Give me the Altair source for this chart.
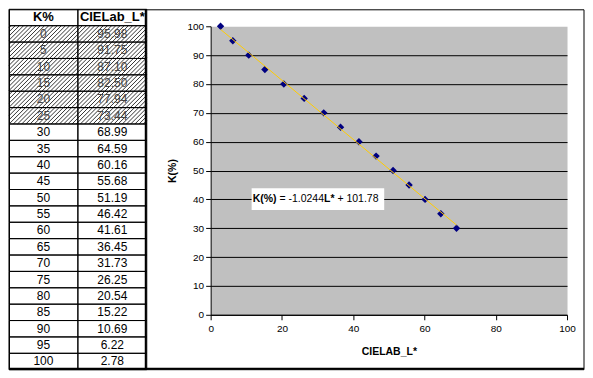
import altair as alt
import pandas as pd
import numpy as np

# ---------------- data ----------------
K_PCT = [0, 5, 10, 15, 20, 25, 30, 35, 40, 45, 50, 55, 60, 65, 70, 75, 80, 85, 90, 95, 100]
L_STAR = [95.98, 91.75, 87.10, 82.50, 77.94, 73.44, 68.99, 64.59, 60.16, 55.68, 51.19,
          46.42, 41.61, 36.45, 31.73, 26.25, 20.54, 15.22, 10.69, 6.22, 2.78]
HEADERS = ["K%", "CIELab_L*"]
HATCH_UPTO = 25          # rows shown hatched (left out of the fit)
X_TICKS = [0, 20, 40, 60, 80, 100]
Y_TICKS = [0, 10, 20, 30, 40, 50, 60, 70, 80, 90, 100]
EQ_PARTS = ["K(%)", "= -1.0244", "L*", "+ 101.78"]
EQ_BOLD = [True, False, True, False]

# ---------------- layout constants (pixels, relative to plot origin) ----------------
PLOT_W, PLOT_H = 357, 289
T_LEFT, T_RIGHT = -202, -64
T_TOP, T_BOTTOM = -17, 344
FRAME_RIGHT = 374
PX_PER_X = PLOT_W / 100.0
FONT = "Liberation Sans"

# ---------------- table ----------------
n_rows = len(K_PCT) + 1
row_h = (T_BOTTOM - T_TOP) / n_rows
col_w = (T_RIGHT - T_LEFT) / 2.0

cells = []
for c, h in enumerate(HEADERS):
    cells.append(dict(c0=c, c1=c + 1, r0=0, r1=1, cx=c + 0.5, cy=0.5, txt=h, kind="head"))
for i, (k, l) in enumerate(zip(K_PCT, L_STAR)):
    kind = "hatch" if k <= HATCH_UPTO else "plain"
    for c, t in enumerate([f"{k}", f"{l:.2f}"]):
        cells.append(dict(c0=c, c1=c + 1, r0=i + 1, r1=i + 2, cx=c + 0.5, cy=i + 1.5, txt=t, kind=kind))
cells = pd.DataFrame(cells)

# hatch lines ("/" direction) over the hatched rows, computed in pixels then converted
n_hatch = sum(1 for k in K_PCT if k <= HATCH_UPTO)
tw = T_RIGHT - T_LEFT
y0p, y1p = row_h, (n_hatch + 1) * row_h
segs = []
for s in np.arange(y0p + 2, y1p + tw, 4.2):
    xa, ya = s - y1p, y1p
    if xa < 0:
        xa, ya = 0.0, s
    xb, yb = s - y0p, y0p
    if xb > tw:
        xb, yb = tw, s - tw
    segs.append(dict(hx=xa / col_w, hy=ya / row_h, hx2=xb / col_w, hy2=yb / row_h))
hatch = pd.DataFrame(segs)

tx = alt.Scale(domain=[0, 2], range=[T_LEFT, T_RIGHT], nice=False, zero=False)
ty = alt.Scale(domain=[0, n_rows], range=[T_TOP, T_BOTTOM], nice=False, zero=False)


def tenc(xf, yf, x2=None, y2=None):
    e = dict(x=alt.X(xf, scale=tx, axis=None), y=alt.Y(yf, scale=ty, axis=None))
    if x2:
        e["x2"] = x2
    if y2:
        e["y2"] = y2
    return e


cell_bg = alt.Chart(cells).mark_rect(fill="white", strokeWidth=0).encode(
    **tenc("c0:Q", "r0:Q", "c1:Q", "r1:Q"))
hatch_lines = alt.Chart(hatch).mark_rule(color="black", strokeWidth=0.8).encode(
    **tenc("hx:Q", "hy:Q", "hx2:Q", "hy2:Q"))
cell_border = alt.Chart(cells).mark_rect(fill="transparent", stroke="black", strokeWidth=1).encode(
    **tenc("c0:Q", "r0:Q", "c1:Q", "r1:Q"))
head_txt = alt.Chart(cells).transform_filter("datum.kind == 'head'").mark_text(
    font=FONT, fontSize=13, fontWeight="bold", color="black", baseline="middle").encode(
    text="txt:N", **tenc("cx:Q", "cy:Q"))
plain_txt = alt.Chart(cells).transform_filter("datum.kind == 'plain'").mark_text(
    font=FONT, fontSize=12, color="black", baseline="middle").encode(
    text="txt:N", **tenc("cx:Q", "cy:Q"))
hatch_txt = alt.Chart(cells).transform_filter("datum.kind == 'hatch'").mark_text(
    font=FONT, fontSize=12, color="#444444", baseline="middle").encode(
    text="txt:N", **tenc("cx:Q", "cy:Q"))

one = pd.DataFrame({"a": [0]})
frame = alt.Chart(one).mark_rect(fill="transparent", stroke="black", strokeWidth=1).encode(
    x=alt.value(T_LEFT + 0.5), x2=alt.value(FRAME_RIGHT),
    y=alt.value(T_TOP + 0.5), y2=alt.value(T_BOTTOM))
table_edge = alt.Chart(one).mark_rule(color="black", strokeWidth=2).encode(
    x=alt.value(T_RIGHT - 1), y=alt.value(T_TOP), y2=alt.value(T_BOTTOM))
bottom_edge = alt.Chart(one).mark_rule(color="black", strokeWidth=2).encode(
    x=alt.value(T_LEFT), x2=alt.value(FRAME_RIGHT), y=alt.value(T_BOTTOM - 1))

# ---------------- scatter ----------------
pts = pd.DataFrame({"K": K_PCT, "L": L_STAR})
pts = pts[pts["K"] > HATCH_UPTO]

sx = alt.Scale(domain=[0, 100], nice=False, zero=False)
sy = alt.Scale(domain=[0, 100], nice=False, zero=False)

x_axis = alt.Axis(values=X_TICKS, grid=False, tickSize=5, labelPadding=4, labelFlush=False,
                  labelFont=FONT, labelFontSize=10, labelColor="black",
                  title="CIELAB_L*", titleFont=FONT, titleFontSize=10.5, titleFontWeight="bold",
                  titleColor="black", titlePadding=12, minExtent=20, maxExtent=20,
                  domainColor="black", tickColor="black", orient="bottom")
y_axis = alt.Axis(values=Y_TICKS, grid=True,
                  gridColor={"condition": {"test": "datum.value >= 100", "value": "transparent"},
                             "value": "black"},
                  gridWidth=1, tickSize=5, labelPadding=2, labelFlush=False,
                  labelFont=FONT, labelFontSize=10, labelColor="black",
                  title="K(%)", titleFont=FONT, titleFontSize=10.5, titleFontWeight="bold",
                  titleColor="black", titlePadding=9, minExtent=24, maxExtent=24,
                  domainColor="black", tickColor="black", orient="left")

points = alt.Chart(pts).mark_point(shape="diamond", filled=True, size=55, color="#000080",
                                   opacity=1).encode(
    x=alt.X("L:Q", scale=sx, axis=x_axis),
    y=alt.Y("K:Q", scale=sy, axis=y_axis))

trend = alt.Chart(pts).transform_regression("L", "K").mark_line(
    color="#FFCC00", strokeWidth=1).encode(
    x=alt.X("L:Q", scale=sx, axis=None), y=alt.Y("K:Q", scale=sy, axis=None))

# equation label (position of the trendline label)
LBL_X0, LBL_X1 = 11.5, 48.7
LBL_Y0, LBL_Y1 = 36.3, 43.9
LBL_TX, LBL_TY = 11.8, 40.1
eq_dx = [0.0, 26.8, 71.5, 84.9]
eq = pd.DataFrame({"t": EQ_PARTS, "b": EQ_BOLD,
                   "x": [LBL_TX + d / PX_PER_X for d in eq_dx],
                   "y": [LBL_TY] * 4})
box = alt.Chart(pd.DataFrame({"x0": [LBL_X0], "x1": [LBL_X1], "y0": [LBL_Y0], "y1": [LBL_Y1]})
                ).mark_rect(fill="white").encode(
    x=alt.X("x0:Q", scale=sx, axis=None), x2="x1:Q",
    y=alt.Y("y0:Q", scale=sy, axis=None), y2="y1:Q")
eq_bold = alt.Chart(eq).transform_filter("datum.b").mark_text(
    font=FONT, fontSize=10.5, fontWeight="bold", color="black", align="left",
    baseline="middle").encode(
    x=alt.X("x:Q", scale=sx, axis=None), y=alt.Y("y:Q", scale=sy, axis=None), text="t:N")
eq_norm = alt.Chart(eq).transform_filter("!datum.b").mark_text(
    font=FONT, fontSize=10.5, color="black", align="left", baseline="middle").encode(
    x=alt.X("x:Q", scale=sx, axis=None), y=alt.Y("y:Q", scale=sy, axis=None), text="t:N")

chart = alt.layer(
    points, trend, box, eq_bold, eq_norm,
    cell_bg, hatch_lines, cell_border, head_txt, plain_txt, hatch_txt,
    frame, table_edge, bottom_edge,
).resolve_scale(x="independent", y="independent").properties(
    width=PLOT_W, height=PLOT_H, padding=0
).configure_view(fill="#C0C0C0", stroke="transparent")

chart.save("out.html", embed_options={"renderer": "svg", "actions": False})
